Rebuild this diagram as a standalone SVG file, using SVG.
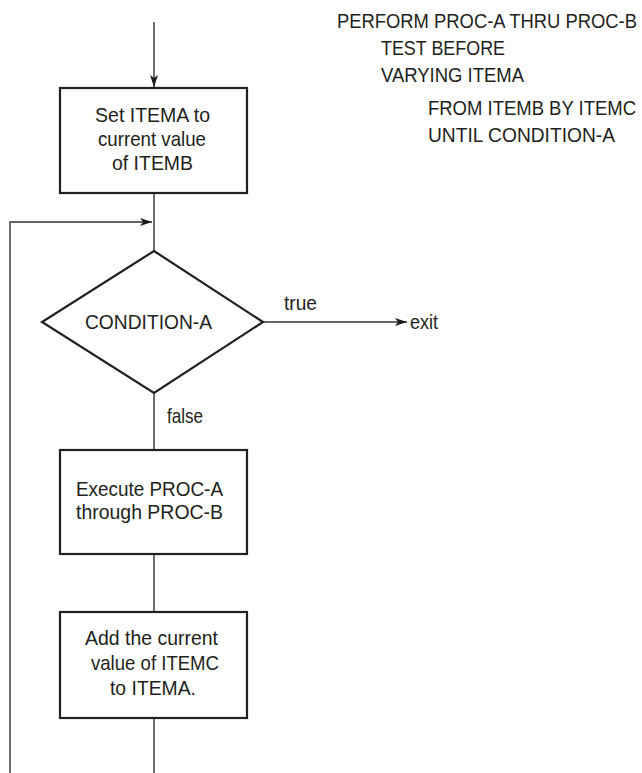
<svg xmlns="http://www.w3.org/2000/svg" width="642" height="773" viewBox="0 0 642 773">
<defs>
<marker id="ah" viewBox="0 0 12 8" refX="12" refY="4" markerWidth="12" markerHeight="8" markerUnits="userSpaceOnUse" orient="auto">
<path d="M0,0 L12,4 L0,8 L3,4 Z" fill="#1a1a1a"/>
</marker>
</defs>
<style>
text{font-family:"Liberation Sans",Arial,sans-serif;font-size:21px;fill:#231f20}
.box{fill:#fff;stroke:#231f20;stroke-width:2.2}
.ln{fill:none;stroke:#333;stroke-width:1.4}
</style>
<g id="code">
<text x="337" y="28" textLength="300" lengthAdjust="spacingAndGlyphs">PERFORM PROC-A THRU PROC-B</text>
<text x="381" y="55" textLength="124" lengthAdjust="spacingAndGlyphs">TEST BEFORE</text>
<text x="381" y="82" textLength="143" lengthAdjust="spacingAndGlyphs">VARYING ITEMA</text>
<text x="428" y="115" textLength="208" lengthAdjust="spacingAndGlyphs">FROM ITEMB BY ITEMC</text>
<text x="428" y="142" textLength="187" lengthAdjust="spacingAndGlyphs">UNTIL CONDITION-A</text>
</g>
<g id="connectors">
<line class="ln" x1="154" y1="22" x2="154" y2="87" marker-end="url(#ah)"/>
<line class="ln" x1="154" y1="193" x2="154" y2="251"/>
<polyline class="ln" points="10,773 10,222 152,222" marker-end="url(#ah)"/>
<line class="ln" x1="263" y1="322" x2="407" y2="322" marker-end="url(#ah)"/>
<line class="ln" x1="154" y1="393" x2="154" y2="450"/>
<line class="ln" x1="154" y1="554" x2="154" y2="612"/>
<line class="ln" x1="154" y1="718" x2="154" y2="773"/>
<text x="284" y="310" textLength="33" lengthAdjust="spacingAndGlyphs">true</text>
<text x="410" y="329" textLength="28" lengthAdjust="spacingAndGlyphs">exit</text>
<text x="167" y="423" textLength="36" lengthAdjust="spacingAndGlyphs">false</text>
</g>
<g id="set-itema">
<rect class="box" x="60" y="88" width="187" height="105"/>
<text x="95" y="122" textLength="115" lengthAdjust="spacingAndGlyphs">Set ITEMA to</text>
<text x="98" y="146" textLength="108" lengthAdjust="spacingAndGlyphs">current value</text>
<text x="112" y="170" textLength="81" lengthAdjust="spacingAndGlyphs">of ITEMB</text>
</g>
<g id="condition-a">
<polygon class="box" points="154,251 263,322 154,393 42,322"/>
<text x="85" y="329" textLength="127" lengthAdjust="spacingAndGlyphs">CONDITION-A</text>
</g>
<g id="execute">
<rect class="box" x="60" y="450" width="187" height="104"/>
<text x="76" y="496" textLength="147" lengthAdjust="spacingAndGlyphs">Execute PROC-A</text>
<text x="76" y="519" textLength="147" lengthAdjust="spacingAndGlyphs">through PROC-B</text>
</g>
<g id="add">
<rect class="box" x="60" y="612" width="187" height="106"/>
<text x="85" y="645" textLength="133" lengthAdjust="spacingAndGlyphs">Add the current</text>
<text x="91" y="670" textLength="128" lengthAdjust="spacingAndGlyphs">value of ITEMC</text>
<text x="110" y="695" textLength="86" lengthAdjust="spacingAndGlyphs">to ITEMA.</text>
</g>
</svg>
